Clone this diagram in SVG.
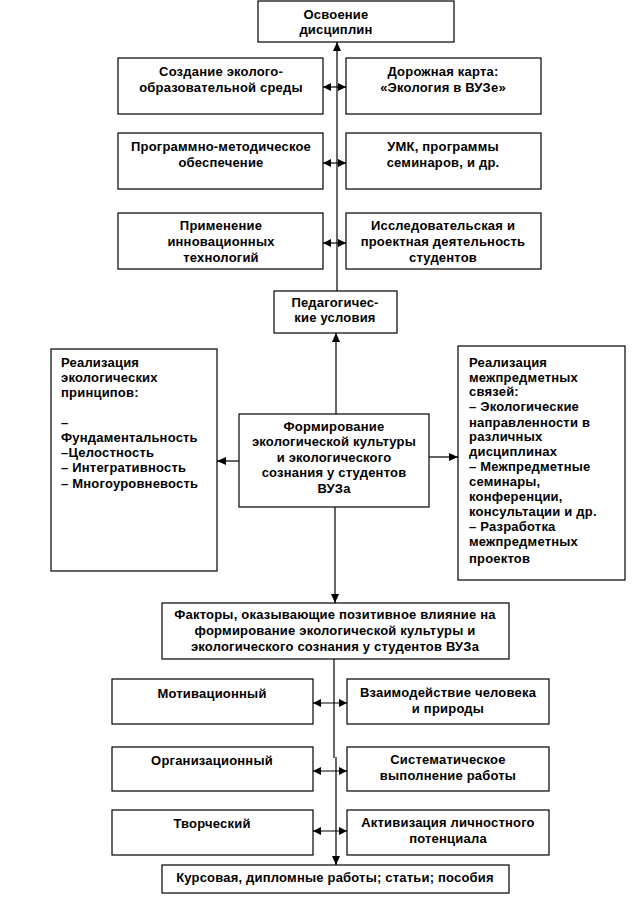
<svg xmlns="http://www.w3.org/2000/svg" width="643" height="900" viewBox="0 0 643 900">
<defs>
<style>
rect{fill:#fff;stroke:#000;stroke-width:1.2}
text{font-family:"Liberation Sans",Arial,sans-serif;font-weight:bold;font-size:13px;fill:#000;letter-spacing:0.2px}
.c{text-anchor:middle}
.ln{stroke:#000;stroke-width:1.2;fill:none}
</style>
<marker id="a" viewBox="0 0 9 8" refX="9" refY="4" markerWidth="9" markerHeight="8" markerUnits="userSpaceOnUse" orient="auto-start-reverse"><path d="M0,0L9,4L0,8z" fill="#000"/></marker>
<marker id="b" viewBox="0 0 8 8" refX="8" refY="4" markerWidth="8" markerHeight="8" markerUnits="userSpaceOnUse" orient="auto-start-reverse"><path d="M0,0L8,4L0,8z" fill="#000"/></marker>
</defs>
<g id="connectors">
<line class="ln" x1="337" y1="291" x2="337" y2="42" marker-end="url(#a)"/>
<line class="ln" x1="323" y1="87" x2="346" y2="87" marker-start="url(#b)" marker-end="url(#b)"/>
<line class="ln" x1="323" y1="163" x2="346" y2="163" marker-start="url(#b)" marker-end="url(#b)"/>
<line class="ln" x1="323" y1="243" x2="346" y2="243" marker-start="url(#b)" marker-end="url(#b)"/>
<line class="ln" x1="336" y1="414" x2="336" y2="333" marker-end="url(#a)"/>
<line class="ln" x1="239" y1="461" x2="217" y2="461" marker-end="url(#a)"/>
<line class="ln" x1="429" y1="457" x2="458" y2="457" marker-end="url(#a)"/>
<line class="ln" x1="335" y1="507" x2="335" y2="603" marker-end="url(#a)"/>
<line class="ln" x1="334" y1="659" x2="334" y2="758"/>
<line class="ln" x1="336" y1="757" x2="336" y2="865" marker-end="url(#a)"/>
<line class="ln" x1="313" y1="703" x2="347" y2="703" marker-start="url(#b)" marker-end="url(#b)"/>
<line class="ln" x1="313" y1="771" x2="347" y2="771" marker-start="url(#b)" marker-end="url(#b)"/>
<line class="ln" x1="313" y1="831" x2="347" y2="831" marker-start="url(#b)" marker-end="url(#b)"/>
</g>
<g id="n-osvoenie"><rect x="258" y="1" width="196" height="41"/>
<text class="c" x="336" y="19">Освоение</text><text class="c" x="336" y="34">дисциплин</text></g>
<g id="n-sreda"><rect x="118" y="58" width="205" height="56"/>
<text class="c" x="221" y="76">Создание эколого-</text><text class="c" x="221" y="92">образовательной среды</text></g>
<g id="n-karta"><rect x="346" y="58" width="195" height="56"/>
<text class="c" x="443" y="76">Дорожная карта:</text><text class="c" x="443" y="92">«Экология в ВУЗе»</text></g>
<g id="n-prog"><rect x="118" y="133" width="205" height="56"/>
<text class="c" x="221" y="151">Программно-методическое</text><text class="c" x="221" y="167">обеспечение</text></g>
<g id="n-umk"><rect x="346" y="133" width="195" height="56"/>
<text class="c" x="443" y="151">УМК, программы</text><text class="c" x="443" y="167">семинаров, и др.</text></g>
<g id="n-innov"><rect x="118" y="213" width="205" height="56"/>
<text class="c" x="221" y="230">Применение</text><text class="c" x="221" y="246">инновационных</text><text class="c" x="221" y="262">технологий</text></g>
<g id="n-issl"><rect x="346" y="213" width="195" height="56"/>
<text class="c" x="443" y="230">Исследовательская и</text><text class="c" x="443" y="246">проектная деятельность</text><text class="c" x="443" y="262">студентов</text></g>
<g id="n-pedag"><rect x="274" y="291" width="123" height="42"/>
<text class="c" x="335" y="307">Педагогичес-</text><text class="c" x="335" y="322">кие условия</text></g>
<g id="n-princ"><rect x="51" y="349" width="166" height="222"/>
<text x="61" y="367">Реализация</text><text x="61" y="382">экологических</text><text x="61" y="397">принципов:</text>
<text x="61" y="427">–</text><text x="61" y="442">Фундаментальность</text><text x="61" y="457">–Целостность</text><text x="61" y="472">– Интегративность</text><text x="61" y="488">– Многоуровневость</text></g>
<g id="n-center"><rect x="239" y="414" width="190" height="93"/>
<text class="c" x="334" y="431">Формирование</text><text class="c" x="334" y="446">экологической культуры</text><text class="c" x="334" y="462">и экологического</text><text class="c" x="334" y="477">сознания у студентов</text><text class="c" x="334" y="493">ВУЗа</text></g>
<g id="n-mezh"><rect x="458" y="346" width="167" height="234"/>
<text x="469" y="367">Реализация</text><text x="469" y="382">межпредметных</text><text x="469" y="396">связей:</text><text x="469" y="411">– Экологические</text><text x="469" y="427">направленности в</text><text x="469" y="441">различных</text><text x="469" y="456">дисциплинах</text><text x="469" y="471">– Межпредметные</text><text x="469" y="486">семинары,</text><text x="469" y="501">конференции,</text><text x="469" y="516">консультации и др.</text><text x="469" y="531">– Разработка</text><text x="469" y="546">межпредметных</text><text x="469" y="563">проектов</text></g>
<g id="n-factory"><rect x="162" y="603" width="347" height="56"/>
<text class="c" x="335" y="619">Факторы, оказывающие позитивное влияние на</text><text class="c" x="335" y="635">формирование экологической культуры и</text><text class="c" x="335" y="651">экологического сознания у студентов ВУЗа</text></g>
<g id="n-motiv"><rect x="112" y="679" width="201" height="45"/>
<text class="c" x="212" y="698">Мотивационный</text></g>
<g id="n-vzaim"><rect x="347" y="679" width="202" height="45"/>
<text class="c" x="448" y="697">Взаимодействие человека</text><text class="c" x="448" y="713">и природы</text></g>
<g id="n-organ"><rect x="112" y="747" width="201" height="44"/>
<text class="c" x="212" y="765">Организационный</text></g>
<g id="n-sistem"><rect x="347" y="747" width="202" height="44"/>
<text class="c" x="448" y="764">Систематическое</text><text class="c" x="448" y="780">выполнение работы</text></g>
<g id="n-tvorch"><rect x="112" y="810" width="201" height="45"/>
<text class="c" x="212" y="828">Творческий</text></g>
<g id="n-aktiv"><rect x="347" y="810" width="202" height="45"/>
<text class="c" x="448" y="827">Активизация личностного</text><text class="c" x="448" y="843">потенциала</text></g>
<g id="n-kurs"><rect x="162" y="865" width="347" height="28"/>
<text class="c" x="335" y="882">Курсовая, дипломные работы; статьи; пособия</text></g>
</svg>
